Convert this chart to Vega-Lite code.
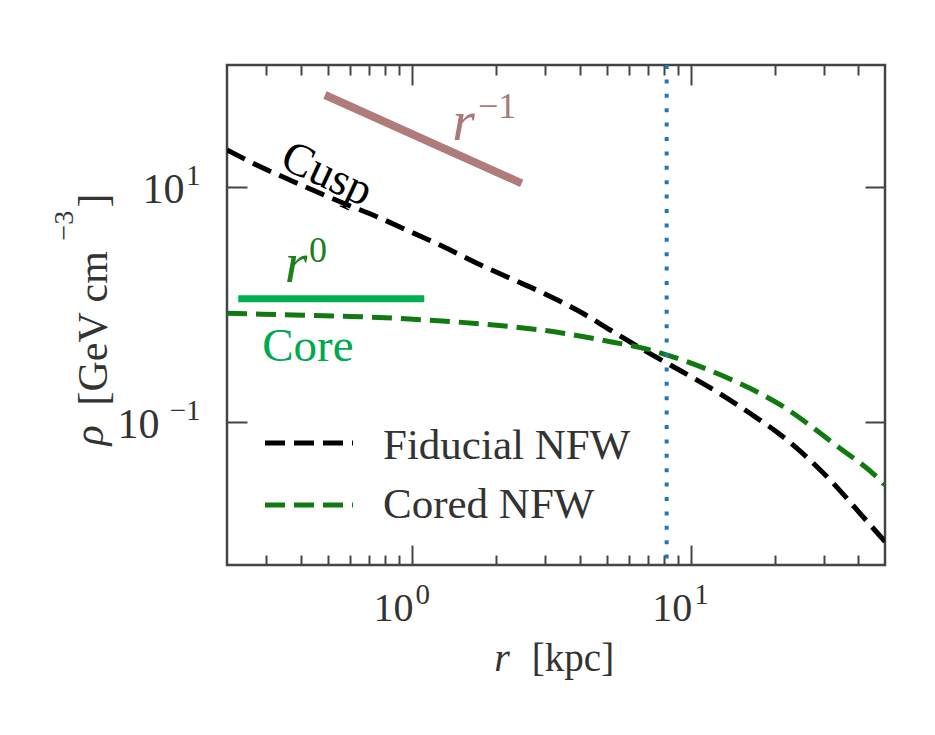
{
  "$schema": "https://vega.github.io/schema/vega-lite/v6.json",
  "width": 658,
  "height": 500,
  "autosize": {"type": "none"},
  "padding": {"left": 227, "top": 65, "right": 50, "bottom": 170},
  "background": "white",
  "config": {
    "view": {"stroke": "#444444", "strokeWidth": 2.5},
    "font": "Liberation Serif",
    "axis": {"grid": false, "domain": false, "labelFlush": false, "labelOverlap": false, "tickColor": "#444444", "tickWidth": 2, "labelColor": "#333333", "titleColor": "#333333", "labelFont": "Liberation Serif", "titleFont": "Liberation Serif", "titleFontWeight": "normal"}
  },
  "resolve": {"axis": {"x": "independent", "y": "independent"}},
  "layer": [
    {
      "data": {"values": [
        {"series": "Fiducial NFW", "r": 0.2169, "rho": 20.53},
        {"series": "Fiducial NFW", "r": 0.2856, "rho": 14.80},
        {"series": "Fiducial NFW", "r": 0.3763, "rho": 11.03},
        {"series": "Fiducial NFW", "r": 0.5687, "rho": 7.224},
        {"series": "Fiducial NFW", "r": 0.7488, "rho": 5.556},
        {"series": "Fiducial NFW", "r": 0.986, "rho": 4.14},
        {"series": "Fiducial NFW", "r": 1.299, "rho": 3.086},
        {"series": "Fiducial NFW", "r": 1.711, "rho": 2.229},
        {"series": "Fiducial NFW", "r": 2.253, "rho": 1.661},
        {"series": "Fiducial NFW", "r": 2.969, "rho": 1.238},
        {"series": "Fiducial NFW", "r": 3.908, "rho": 0.8925},
        {"series": "Fiducial NFW", "r": 5.146, "rho": 0.6031},
        {"series": "Fiducial NFW", "r": 6.783, "rho": 0.4075},
        {"series": "Fiducial NFW", "r": 8.451, "rho": 0.3039},
        {"series": "Fiducial NFW", "r": 12.4, "rho": 0.180},
        {"series": "Fiducial NFW", "r": 16.32, "rho": 0.1179},
        {"series": "Fiducial NFW", "r": 21.44, "rho": 0.0745},
        {"series": "Fiducial NFW", "r": 32.4, "rho": 0.03008},
        {"series": "Fiducial NFW", "r": 40.5, "rho": 0.0166},
        {"series": "Fiducial NFW", "r": 49.8, "rho": 0.00953},
        {"series": "Cored NFW", "r": 0.2169, "rho": 0.8367},
        {"series": "Cored NFW", "r": 0.3763, "rho": 0.8093},
        {"series": "Cored NFW", "r": 0.6525, "rho": 0.7829},
        {"series": "Cored NFW", "r": 1.132, "rho": 0.7335},
        {"series": "Cored NFW", "r": 1.964, "rho": 0.6652},
        {"series": "Cored NFW", "r": 3.405, "rho": 0.572},
        {"series": "Cored NFW", "r": 5.146, "rho": 0.4797},
        {"series": "Cored NFW", "r": 6.783, "rho": 0.4212},
        {"series": "Cored NFW", "r": 9.699, "rho": 0.3241},
        {"series": "Cored NFW", "r": 12.4, "rho": 0.2582},
        {"series": "Cored NFW", "r": 16.32, "rho": 0.1924},
        {"series": "Cored NFW", "r": 21.5, "rho": 0.1341},
        {"series": "Cored NFW", "r": 32.49, "rho": 0.0655},
        {"series": "Cored NFW", "r": 47.78, "rho": 0.0319},
        {"series": "Cored NFW", "r": 49.8, "rho": 0.0289}
      ]},
      "mark": {"type": "line", "strokeWidth": 5, "strokeDash": [20, 9], "interpolate": "monotone", "clip": true},
      "encoding": {
        "x": {"field": "r", "type": "quantitative",
          "scale": {"type": "log", "domain": [0.2169, 49.8], "nice": false},
          "axis": {"orient": "bottom", "values": [1, 10], "tickSize": -20, "labels": false,
            "title": "r", "titleFontStyle": "italic", "titleFontSize": 40, "titleX": 274.5, "titleY": 105, "titleAlign": "center", "titleBaseline": "alphabetic", "titleAngle": 0}},
        "y": {"field": "rho", "type": "quantitative",
          "scale": {"type": "log", "domain": [0.00603, 108.6], "nice": false},
          "axis": {"orient": "left", "values": [0.1, 10], "tickSize": -20, "labels": false,
            "title": "ρ", "titleFontStyle": "italic", "titleFontSize": 42, "titleX": -125, "titleY": 380, "titleAlign": "left", "titleBaseline": "alphabetic", "titleAngle": 270}},
        "color": {"field": "series", "type": "nominal",
          "scale": {"domain": ["Fiducial NFW", "Cored NFW"], "range": ["#000000", "#107a10"]},
          "legend": null}
      }
    },
    {
      "data": {"values": [
        {"series": "Fiducial NFW", "r": 0.2969, "rho": 0.06587},
        {"series": "Fiducial NFW", "r": 0.6141, "rho": 0.06587},
        {"series": "Cored NFW", "r": 0.2969, "rho": 0.01955},
        {"series": "Cored NFW", "r": 0.6141, "rho": 0.01955}
      ]},
      "mark": {"type": "line", "strokeWidth": 5, "strokeDash": [20, 9]},
      "encoding": {
        "x": {"field": "r", "type": "quantitative", "scale": {"type": "log", "domain": [0.2169, 49.8], "nice": false}, "axis": null},
        "y": {"field": "rho", "type": "quantitative", "scale": {"type": "log", "domain": [0.00603, 108.6], "nice": false}, "axis": null},
        "color": {"field": "series", "type": "nominal", "scale": {"domain": ["Fiducial NFW", "Cored NFW"], "range": ["#000000", "#107a10"]}, "legend": null}
      }
    },
    {
      "data": {"values": [
        {"label": "Fiducial NFW", "r": 0.787, "rho": 0.04816},
        {"label": "Cored NFW", "r": 0.787, "rho": 0.01515}
      ]},
      "mark": {"type": "text", "fontSize": 43, "align": "left", "baseline": "alphabetic", "color": "#333333", "font": "Liberation Serif"},
      "encoding": {
        "x": {"field": "r", "type": "quantitative", "scale": {"type": "log", "domain": [0.2169, 49.8], "nice": false}, "axis": null},
        "y": {"field": "rho", "type": "quantitative", "scale": {"type": "log", "domain": [0.00603, 108.6], "nice": false}, "axis": null},
        "text": {"field": "label"}
      }
    },
    {
      "data": {"values": [{"rsun": 8.2}]},
      "mark": {"type": "rule", "color": "#1f77b4", "strokeWidth": 4, "strokeDash": [4, 10.4]},
      "encoding": {
        "x": {"field": "rsun", "type": "quantitative", "scale": {"type": "log", "domain": [0.2169, 49.8], "nice": false}, "axis": null}
      }
    },
    {
      "data": {"values": [{"r": 0.4874, "rho": 60.3}, {"r": 2.475, "rho": 10.69}]},
      "mark": {"type": "line", "color": "#b07b7b", "strokeWidth": 8, "strokeCap": "butt"},
      "encoding": {
        "x": {"field": "r", "type": "quantitative", "scale": {"type": "log", "domain": [0.2169, 49.8], "nice": false},
          "axis": {"orient": "bottom", "values": [0.3, 0.4, 0.5, 0.6, 0.7, 0.8, 0.9, 2, 3, 4, 5, 6, 7, 8, 9, 20, 30, 40], "tickSize": -10, "labels": false,
            "title": "[kpc]", "titleFontSize": 39, "titleX": 345.5, "titleY": 105, "titleAlign": "center", "titleBaseline": "alphabetic", "titleAngle": 0}},
        "y": {"field": "rho", "type": "quantitative", "scale": {"type": "log", "domain": [0.00603, 108.6], "nice": false},
          "axis": {"orient": "right", "values": [0.1, 10], "tickSize": -20, "labels": false,
            "title": "]", "titleFontSize": 42, "titleX": -779, "titleY": 142, "titleAlign": "left", "titleBaseline": "alphabetic", "titleAngle": 270}}
      }
    },
    {
      "data": {"values": [{"r": 0.238, "rho": 1.112}, {"r": 1.107, "rho": 1.112}]},
      "mark": {"type": "line", "color": "#00b050", "strokeWidth": 7, "strokeCap": "butt"},
      "encoding": {
        "x": {"field": "r", "type": "quantitative", "scale": {"type": "log", "domain": [0.2169, 49.8], "nice": false},
          "axis": {"orient": "top", "values": [1, 10], "tickSize": -20, "labels": false, "title": null}},
        "y": {"field": "rho", "type": "quantitative", "scale": {"type": "log", "domain": [0.00603, 108.6], "nice": false},
          "axis": {"orient": "left", "values": [0.1, 10], "ticks": false, "labelExpr": "'10'", "labelFontSize": 42, "labelAlign": "right", "labelBaseline": "alphabetic", "labelOffset": 16,
            "labelPadding": {"condition": {"test": "datum.value < 1", "value": 68}, "value": 43},
            "title": "[GeV cm", "titleFontSize": 42, "titleX": -121, "titleY": 340, "titleAlign": "left", "titleBaseline": "alphabetic", "titleAngle": 270}}
      }
    },
    {
      "data": {"values": [{"t": "Cusp", "r": 0.4955, "rho": 12.83}]},
      "mark": {"type": "text", "fontSize": 46, "angle": 25, "align": "center", "baseline": "middle", "color": "#000000", "font": "Liberation Serif"},
      "encoding": {
        "x": {"field": "r", "type": "quantitative", "scale": {"type": "log", "domain": [0.2169, 49.8], "nice": false},
          "axis": {"orient": "top", "values": [0.3, 0.4, 0.5, 0.6, 0.7, 0.8, 0.9, 2, 3, 4, 5, 6, 7, 8, 9, 20, 30, 40], "tickSize": -10, "labels": false, "title": null}},
        "y": {"field": "rho", "type": "quantitative", "scale": {"type": "log", "domain": [0.00603, 108.6], "nice": false},
          "axis": {"orient": "left", "values": [0.1, 10], "ticks": false, "labelExpr": "datum.value < 1 ? '−1' : '1'", "labelFontSize": 29, "labelAlign": "right", "labelBaseline": "alphabetic", "labelOffset": -2, "labelPadding": 27,
            "title": "−3", "titleFontSize": 28, "titleX": -155, "titleY": 175, "titleAlign": "left", "titleBaseline": "alphabetic", "titleAngle": 270}},
        "text": {"field": "t"}
      }
    },
    {
      "data": {"values": [{"t": "Core", "r": 0.4234, "rho": 0.3286}]},
      "mark": {"type": "text", "fontSize": 47, "align": "center", "baseline": "alphabetic", "color": "#00a850", "font": "Liberation Serif"},
      "encoding": {
        "x": {"field": "r", "type": "quantitative", "scale": {"type": "log", "domain": [0.2169, 49.8], "nice": false},
          "axis": {"orient": "bottom", "values": [1, 10], "ticks": false, "labelExpr": "'10'", "labelFontSize": 40, "labelAlign": "right", "labelBaseline": "alphabetic", "labelOffset": 1, "labelPadding": 55, "title": null}},
        "y": {"field": "rho", "type": "quantitative", "scale": {"type": "log", "domain": [0.00603, 108.6], "nice": false}, "axis": null},
        "text": {"field": "t"}
      }
    },
    {
      "data": {"values": [{"t": "r", "r": 1.53, "rho": 24.97}]},
      "mark": {"type": "text", "fontSize": 58, "fontStyle": "italic", "align": "center", "baseline": "alphabetic", "color": "#a97878", "font": "Liberation Serif"},
      "encoding": {
        "x": {"field": "r", "type": "quantitative", "scale": {"type": "log", "domain": [0.2169, 49.8], "nice": false},
          "axis": {"orient": "bottom", "values": [1, 10], "ticks": false, "labelExpr": "datum.value < 5 ? '0' : '1'", "labelFontSize": 29, "labelAlign": "left", "labelBaseline": "alphabetic", "labelOffset": 3, "labelPadding": 38, "title": null}},
        "y": {"field": "rho", "type": "quantitative", "scale": {"type": "log", "domain": [0.00603, 108.6], "nice": false}, "axis": null},
        "text": {"field": "t"}
      }
    },
    {
      "data": {"values": [{"t": "−1", "r": 1.725, "rho": 38.43}]},
      "mark": {"type": "text", "fontSize": 36, "align": "left", "baseline": "alphabetic", "color": "#a97878", "font": "Liberation Serif"},
      "encoding": {
        "x": {"field": "r", "type": "quantitative", "scale": {"type": "log", "domain": [0.2169, 49.8], "nice": false}, "axis": null},
        "y": {"field": "rho", "type": "quantitative", "scale": {"type": "log", "domain": [0.00603, 108.6], "nice": false}, "axis": null},
        "text": {"field": "t"}
      }
    },
    {
      "data": {"values": [{"t": "r", "r": 0.3836, "rho": 1.545}]},
      "mark": {"type": "text", "fontSize": 58, "fontStyle": "italic", "align": "center", "baseline": "alphabetic", "color": "#1d801d", "font": "Liberation Serif"},
      "encoding": {
        "x": {"field": "r", "type": "quantitative", "scale": {"type": "log", "domain": [0.2169, 49.8], "nice": false}, "axis": null},
        "y": {"field": "rho", "type": "quantitative", "scale": {"type": "log", "domain": [0.00603, 108.6], "nice": false}, "axis": null},
        "text": {"field": "t"}
      }
    },
    {
      "data": {"values": [{"t": "0", "r": 0.427, "rho": 2.286}]},
      "mark": {"type": "text", "fontSize": 36, "align": "left", "baseline": "alphabetic", "color": "#1d801d", "font": "Liberation Serif"},
      "encoding": {
        "x": {"field": "r", "type": "quantitative", "scale": {"type": "log", "domain": [0.2169, 49.8], "nice": false}, "axis": null},
        "y": {"field": "rho", "type": "quantitative", "scale": {"type": "log", "domain": [0.00603, 108.6], "nice": false}, "axis": null},
        "text": {"field": "t"}
      }
    }
  ]
}
